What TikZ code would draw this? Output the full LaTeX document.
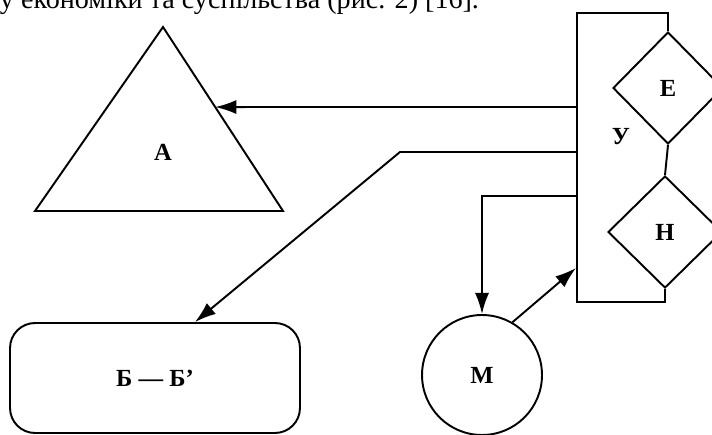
\documentclass[tikz,border=0pt]{standalone}
\usepackage{fontspec}
\setmainfont{Liberation Serif}
\usetikzlibrary{shapes.geometric,arrows.meta,calc}
\tikzset{
  arr/.style={-{Latex[length=12pt,width=8pt]}},
  lbl/.style={font=\fontsize{14}{14}\selectfont\bfseries},
  dia/.style={draw,diamond,inner sep=0,minimum width=2.2cm,minimum height=2.24cm,lbl}
}
\begin{document}
\begin{tikzpicture}[x=0.02cm,y=-0.02cm,line width=1.1pt]
  \useasboundingbox (0,0) rectangle (712,435);
  \clip (0,0) rectangle (712,435);
  \node[anchor=base west,inner sep=0,font=\fontsize{16}{16}\selectfont] (cap) at (-1,9) {у економіки та суспільства (рис. 2) [16].};
  \coordinate (At) at (163,27);
  \coordinate (Al) at (35,211);
  \coordinate (Ar) at (283,211);
  \draw (At) -- (Al) -- (Ar) -- cycle;
  \node[lbl] (A) at (163,152) {А};
  \node[dia] (E) at (668,88) {Е};
  \node[dia,minimum width=2.28cm] (H) at (665,232) {Н};
  \draw (E.south) -- (H.north);
  \draw (E.north) |- (577,13) -- (577,302) -| (H.south);
  \node[lbl] (U) at (621,137) {У};
  \node[draw,circle,inner sep=0,minimum size=2.4cm,lbl] (M) at (482,375) {М};
  \node[draw,rectangle,rounded corners=0.5cm,minimum width=5.8cm,minimum height=2.2cm,lbl] (B) at (155,378) {Б — Б'};
  \coordinate (u1) at (577,107);
  \coordinate (u2) at (577,152);
  \coordinate (u3) at (577,196);
  \coordinate (u4) at (576,268);
  \draw[arr] (u1) -- ($(At)!0.435!(Ar)$);
  \draw[arr] (u2) -- (400,152) -- ($(B.north)+(40,0)$);
  \draw[arr] (u3) -| (M.north);
  \draw[arr] (M.60) -- (u4);
\end{tikzpicture}
\end{document}
